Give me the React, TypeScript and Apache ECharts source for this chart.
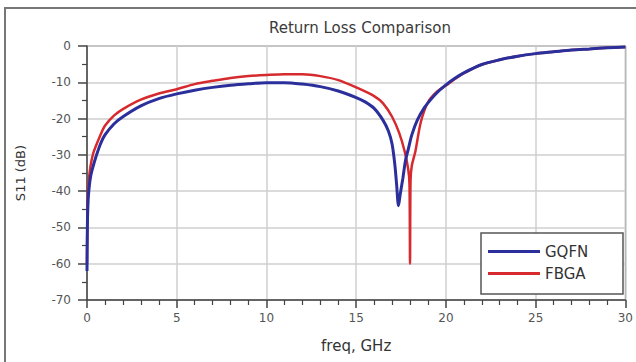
import React, { useEffect, useRef } from "react";
import * as echarts from "echarts";

const titleText = "Return Loss Comparison";
const xAxisName = "freq, GHz";
const yAxisName = "S11 (dB)";
const seriesNames = ["GQFN", "FBGA"];

const gqfnFreq = [0, 0.02, 0.05, 0.1, 0.2, 0.35, 0.5, 0.75, 1, 1.5, 2, 3, 4, 5, 6, 7, 8, 9, 10, 11, 12, 13, 14, 15, 15.5, 16, 16.5, 16.8, 17, 17.15, 17.25, 17.36, 17.45, 17.6, 17.75, 17.9, 18.1, 18.4, 18.8, 19.2, 19.6, 20, 20.5, 21, 22, 23, 24, 25, 26, 27, 28, 29, 30];
const gqfnS11 = [-62, -50, -44, -40, -36, -33, -30.5, -27, -24.5, -21.5, -19.5, -16.5, -14.5, -13.2, -12.2, -11.4, -10.8, -10.4, -10.1, -10.1, -10.5, -11.2, -12.4, -14.2, -15.4, -17.2, -20.5, -23.5, -27, -32.5, -38, -44, -41, -36.5, -31.5, -28.5, -24.5, -20.5, -17, -14.5, -12.4, -10.7, -8.9, -7.4, -5.1, -3.8, -2.8, -2.1, -1.6, -1.1, -0.8, -0.5, -0.3];

const fbgaFreq = [0, 0.02, 0.05, 0.1, 0.2, 0.35, 0.5, 0.75, 1, 1.5, 2, 3, 4, 5, 6, 7, 8, 9, 10, 11, 12, 13, 14, 15, 16, 16.5, 17, 17.4, 17.7, 17.9, 17.97, 18.0, 18.03, 18.1, 18.3, 18.6, 19, 19.5, 20, 20.5, 21, 22, 23, 24, 25, 26, 27, 28, 29, 30];
const fbgaS11 = [-60, -48, -41, -37, -33, -29.5, -27.5, -24.5, -22, -19.2, -17.4, -14.8, -13.1, -11.9, -10.5, -9.6, -8.8, -8.3, -8.0, -7.8, -7.8, -8.3, -9.4, -11.4, -13.8, -15.8, -19.5, -24, -29, -34, -38, -60, -37, -33, -29, -21, -15.5, -12.6, -10.9, -9.1, -7.5, -5.1, -3.8, -2.8, -2.1, -1.6, -1.1, -0.8, -0.5, -0.3];

const xTicks = { min: 0, max: 30, interval: 5 };
const yTicks = { min: -70, max: 0, interval: 10 };

const pairs = (xs: number[], ys: number[]) => xs.map((x, i) => [x, ys[i]]);

export default function App() {
  const ref = useRef<HTMLDivElement>(null);
  useEffect(() => {
    const chart = echarts.init(ref.current!, null, { renderer: "svg" });
    const font = "'DejaVu Sans', Verdana, sans-serif";
    chart.setOption({
      animation: false,
      backgroundColor: "#ffffff",
      textStyle: { fontFamily: font },
      title: {
        text: titleText,
        left: 355,
        top: 15,
        textAlign: "center",
        textStyle: { fontSize: 15, fontWeight: "normal", color: "#3a3a3a", fontFamily: font },
      },
      grid: {
        left: 87,
        right: 6,
        top: 46,
        bottom: 62,
        show: true,
        borderColor: "#555",
        borderWidth: 1,
        backgroundColor: "#fff",
      },
      legend: {
        data: seriesNames,
        orient: "vertical",
        left: 488,
        top: 244,
        padding: 0,
        itemGap: 7,
        itemWidth: 52,
        itemHeight: 3,
        icon: "rect",
        z: 20,
        textStyle: { fontSize: 15, color: "#333", fontFamily: font },
      },
      xAxis: {
        type: "value",
        min: xTicks.min,
        max: xTicks.max,
        interval: xTicks.interval,
        name: xAxisName,
        nameLocation: "middle",
        nameGap: 38,
        nameTextStyle: { fontSize: 15, color: "#333", fontFamily: font },
        axisLine: { show: true, onZero: false, lineStyle: { color: "#444", width: 1.5 } },
        axisTick: { show: true, length: 8, lineStyle: { color: "#444", width: 1.5 } },
        minorTick: { show: true, splitNumber: 5, length: 5, lineStyle: { color: "#444", width: 1.2 } },
        axisLabel: { fontSize: 12, color: "#555", margin: 12, fontFamily: font },
        splitLine: { show: true, lineStyle: { color: "#cfcfcf", width: 1.5 } },
      },
      yAxis: {
        type: "value",
        min: yTicks.min,
        max: yTicks.max,
        interval: yTicks.interval,
        name: yAxisName,
        nameLocation: "middle",
        nameGap: 60,
        nameTextStyle: { fontSize: 13, color: "#333", fontFamily: font },
        axisLine: { show: true, onZero: false, lineStyle: { color: "#444", width: 1.5 } },
        axisTick: { show: true, length: 9, lineStyle: { color: "#444", width: 1.5 } },
        minorTick: { show: true, splitNumber: 2, length: 5, lineStyle: { color: "#444", width: 1.2 } },
        axisLabel: { fontSize: 12, color: "#555", margin: 16, fontFamily: font },
        splitLine: { show: true, lineStyle: { color: "#cfcfcf", width: 1.5 } },
      },
      graphic: [
        {
          type: "rect",
          shape: { x: 5, y: 8, width: 640, height: 360 },
          style: { fill: "none", stroke: "#777", lineWidth: 2 },
          silent: true,
          z: 0,
        },
        {
          type: "rect",
          shape: { x: 481, y: 233, width: 142, height: 61 },
          style: { fill: "#fff", stroke: "#555", lineWidth: 1.5 },
          silent: true,
          z: 5,
        },
      ],
      series: [
        {
          name: "FBGA",
          type: "line",
          data: pairs(fbgaFreq, fbgaS11),
          showSymbol: false,
          smooth: 0.3,
          lineStyle: { color: "#d62a2e", width: 2.5 },
          itemStyle: { color: "#d62a2e" },
          z: 2,
        },
        {
          name: "GQFN",
          type: "line",
          data: pairs(gqfnFreq, gqfnS11),
          showSymbol: false,
          smooth: 0.3,
          lineStyle: { color: "#2a2f9c", width: 3 },
          itemStyle: { color: "#2a2f9c" },
          z: 3,
        },
      ],
    });
    return () => chart.dispose();
  }, []);
  return (
    <div
      ref={ref}
      style={{ position: "fixed", left: 0, top: 0, width: 636, height: 362 }}
    />
  );
}
